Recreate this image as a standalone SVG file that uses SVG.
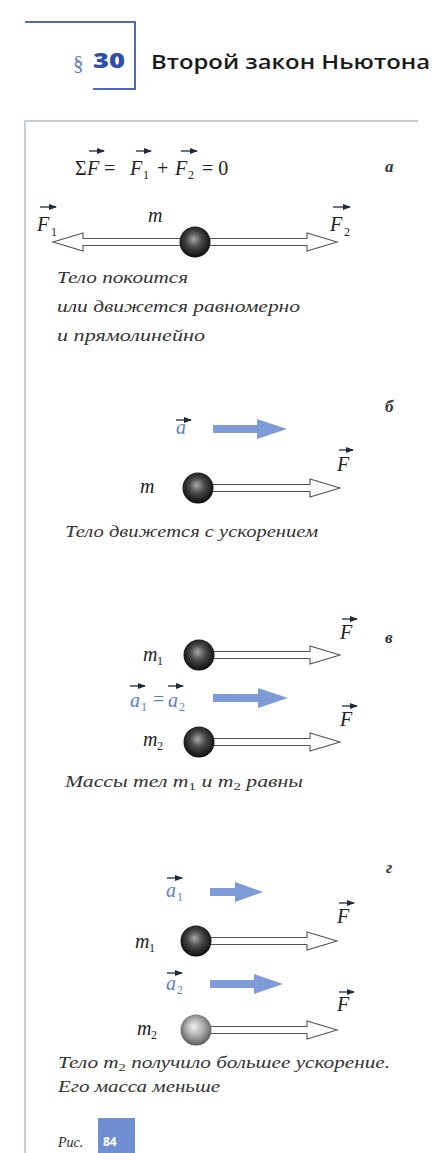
<svg xmlns="http://www.w3.org/2000/svg" width="445" height="1153" viewBox="0 0 445 1153">
<style>
.it{font-family:"Liberation Serif","DejaVu Serif",serif;font-style:italic;fill:#2a2a2a}
.tag{font-family:"Liberation Serif","DejaVu Serif",serif;font-style:italic;font-weight:bold;font-size:17px;fill:#333}
.lbl{font-family:"Liberation Serif","DejaVu Serif",serif;font-style:italic;font-size:20px;fill:#222}
.blue{fill:#5c80c8}
.sub{font-size:12px}
.up{font-style:normal}
.cap{font-family:"Liberation Serif","DejaVu Serif",serif;font-style:italic;font-size:16px;fill:#333}
.farrow{fill:#fff;stroke:#555;stroke-width:1.1}
.barrow{fill:#7d9bd6}
.vec{stroke:#1e2a3a;stroke-width:1.3;fill:none}
.frame{stroke:#c3ccd8;stroke-width:2;fill:none}
.hdr{stroke:#4b6cbf;stroke-width:2;fill:none}
</style>
<defs>
<radialGradient id="ball" cx="0.5" cy="0.45" r="0.55" fx="0.45" fy="0.4">
<stop offset="0" stop-color="#a8a8a8"/>
<stop offset="0.45" stop-color="#4a4a4a"/>
<stop offset="1" stop-color="#0c0c0c"/>
</radialGradient>
<radialGradient id="ballL" cx="0.5" cy="0.45" r="0.55" fx="0.42" fy="0.38">
<stop offset="0" stop-color="#f2f2f2"/>
<stop offset="0.55" stop-color="#a8a8a8"/>
<stop offset="1" stop-color="#5a5a5a"/>
</radialGradient>
<marker id="vh" markerWidth="8" markerHeight="6" refX="7" refY="3" orient="auto" markerUnits="userSpaceOnUse">
<path d="M0,0 L8,3 L0,6 Z" fill="#1e2a3a"/>
</marker>
</defs>

<g id="header">
<path class="hdr" d="M25,22 H135 V89 H93"/>
<text x="73" y="70" font-family="Liberation Serif,serif" font-size="21" fill="#5a7cc0">§</text>
<text x="93" y="68" font-family="Open Sans,sans-serif" font-weight="800" font-size="21" fill="#2f50a8" textLength="32" lengthAdjust="spacingAndGlyphs">30</text>
<text x="151" y="69" font-family="Open Sans,sans-serif" font-weight="600" font-size="20" fill="#1a1a1a" textLength="279" lengthAdjust="spacingAndGlyphs">Второй закон Ньютона</text>
</g>

<g id="frame">
<path class="frame" d="M418,121 H25 V1153"/>
</g>

<g id="connectors">
<path class="farrow" d="M195,238.5 H83 V233 L53,242 L83,251 V245.5 H195 Z"/>
<path class="farrow" d="M195,238.5 H307 V233 L337,242 L307,251 V245.5 H195 Z"/>
<path class="farrow" d="M198,484.5 H310 V479 L340,488 L310,497 V491.5 H198 Z"/>
<path class="barrow" d="M213,425 H257 V419 L287,429 L257,439 V433 H213 Z"/>
<path class="farrow" d="M199,651.5 H310 V646 L340,655 L310,664 V658.5 H199 Z"/>
<path class="farrow" d="M199,738.5 H310 V733 L340,742 L310,751 V745.5 H199 Z"/>
<path class="barrow" d="M213,694 H258 V688 L288,698 L258,708 V702 H213 Z"/>
<path class="barrow" d="M210,888 H235 V882 L263,892 L235,902 V896 H210 Z"/>
<path class="farrow" d="M196,937.5 H307 V932 L337,941 L307,950 V944.5 H196 Z"/>
<path class="barrow" d="M210,980 H254 V974 L283,984 L254,994 V988 H210 Z"/>
<path class="farrow" d="M196,1026.5 H307 V1021 L337,1030 L307,1039 V1033.5 H196 Z"/>
</g>

<g id="panel-a">
<text class="lbl up" x="75" y="175">Σ</text>
<text class="lbl" x="87" y="175">F</text>
<path class="vec" d="M89,151 H104" marker-end="url(#vh)"/>
<text class="lbl up" x="104" y="175">=</text>
<text class="lbl" x="130" y="175">F</text>
<text class="lbl sub up" x="143" y="179">1</text>
<path class="vec" d="M136,151 H151" marker-end="url(#vh)"/>
<text class="lbl up" x="157" y="175">+</text>
<text class="lbl" x="175" y="175">F</text>
<text class="lbl sub up" x="188" y="179">2</text>
<path class="vec" d="M181,151 H197" marker-end="url(#vh)"/>
<text class="lbl up" x="202" y="175">= 0</text>
<text class="tag" x="385" y="172">а</text>

<text class="lbl" x="37" y="231">F</text>
<text class="lbl sub up" x="51" y="236">1</text>
<path class="vec" d="M40,207 H56" marker-end="url(#vh)"/>
<text class="lbl" x="148" y="222" font-size="17">m</text>
<text class="lbl" x="330" y="231">F</text>
<text class="lbl sub up" x="344" y="236">2</text>
<path class="vec" d="M333,207 H350" marker-end="url(#vh)"/>
<circle cx="195" cy="242" r="15.5" fill="url(#ball)"/>

<text class="cap" x="57" y="283" textLength="131" lengthAdjust="spacingAndGlyphs">Тело покоится</text>
<text class="cap" x="57" y="312" textLength="243" lengthAdjust="spacingAndGlyphs">или движется равномерно</text>
<text class="cap" x="57" y="341" textLength="148" lengthAdjust="spacingAndGlyphs">и прямолинейно</text>
</g>

<g id="panel-b">
<text class="tag" x="385" y="412">б</text>
<text class="lbl blue" x="176" y="434">a</text>
<path class="vec" d="M176,420 H191" marker-end="url(#vh)"/>
<text class="lbl" x="337" y="471">F</text>
<path class="vec" d="M339,450 H353" marker-end="url(#vh)"/>
<text class="lbl" x="140" y="493" font-size="17">m</text>
<circle cx="198" cy="488" r="15.5" fill="url(#ball)"/>
<text class="cap" x="65" y="537" textLength="253" lengthAdjust="spacingAndGlyphs">Тело движется с ускорением</text>
</g>

<g id="panel-v">
<text class="tag" x="385" y="643">в</text>
<text class="lbl" x="340" y="639">F</text>
<path class="vec" d="M342,619 H357" marker-end="url(#vh)"/>
<text class="lbl" x="143" y="661" font-size="17">m</text>
<text class="lbl sub up" x="157" y="665">1</text>
<circle cx="199" cy="655" r="15.5" fill="url(#ball)"/>
<text class="lbl blue" x="130" y="707">a</text>
<text class="lbl sub blue up" x="141" y="711">1</text>
<path class="vec" d="M130,686 H145" marker-end="url(#vh)"/>
<text class="lbl blue up" x="153" y="706">=</text>
<text class="lbl blue" x="168" y="707">a</text>
<text class="lbl sub blue up" x="179" y="711">2</text>
<path class="vec" d="M168,686 H183" marker-end="url(#vh)"/>
<text class="lbl" x="340" y="726">F</text>
<path class="vec" d="M342,706 H357" marker-end="url(#vh)"/>
<text class="lbl" x="143" y="746" font-size="17">m</text>
<text class="lbl sub up" x="157" y="750">2</text>
<circle cx="199" cy="742" r="15.5" fill="url(#ball)"/>
<text class="cap" x="65" y="787" textLength="238" lengthAdjust="spacingAndGlyphs">Массы тел m<tspan class="up" font-size="11" dy="3">1</tspan><tspan dy="-3"> и m</tspan><tspan class="up" font-size="11" dy="3">2</tspan><tspan dy="-3"> равны</tspan></text>
</g>

<g id="panel-g">
<text class="tag" x="386" y="873">г</text>
<text class="lbl blue" x="166" y="897">a</text>
<text class="lbl sub blue up" x="177" y="901">1</text>
<path class="vec" d="M167,878 H182" marker-end="url(#vh)"/>
<text class="lbl" x="337" y="923">F</text>
<path class="vec" d="M339,903 H354" marker-end="url(#vh)"/>
<text class="lbl" x="135" y="948" font-size="17">m</text>
<text class="lbl sub up" x="149" y="952">1</text>
<circle cx="196" cy="941" r="15.5" fill="url(#ball)"/>
<text class="lbl blue" x="166" y="990">a</text>
<text class="lbl sub blue up" x="177" y="994">2</text>
<path class="vec" d="M167,973 H182" marker-end="url(#vh)"/>
<text class="lbl" x="337" y="1011">F</text>
<path class="vec" d="M339,992 H354" marker-end="url(#vh)"/>
<text class="lbl" x="137" y="1035" font-size="17">m</text>
<text class="lbl sub up" x="151" y="1039">2</text>
<circle cx="196" cy="1030" r="15.5" fill="url(#ballL)"/>
<text class="cap" x="58" y="1068" textLength="332" lengthAdjust="spacingAndGlyphs">Тело m<tspan class="up" font-size="11" dy="3">2</tspan><tspan dy="-3"> получило большее  ускорение.</tspan></text>
<text class="cap" x="58" y="1092" textLength="162" lengthAdjust="spacingAndGlyphs">Его масса меньше</text>
</g>

<g id="caption">
<text class="it" x="58" y="1147" font-size="14" fill="#5a6f98">Рис.</text>
<rect x="98" y="1118" width="37" height="35" fill="#6f8fd2"/>
<text x="103" y="1146" font-family="Open Sans,sans-serif" font-weight="700" font-size="12" fill="#fff">84</text>
</g>
</svg>
